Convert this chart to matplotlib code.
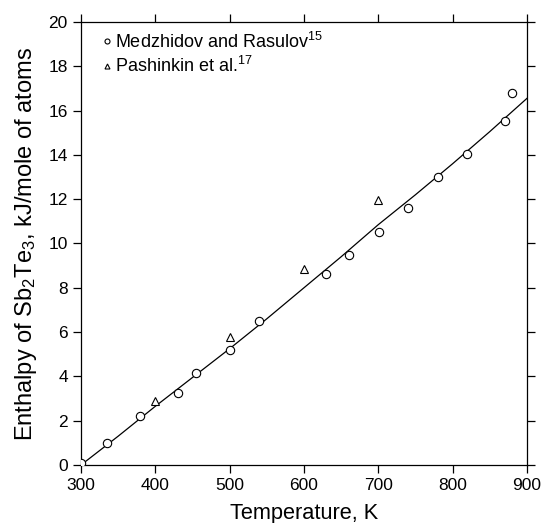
import matplotlib
matplotlib.use("Agg")
import matplotlib.pyplot as plt

plt.rcParams['font.family'] = ['Liberation Sans', 'DejaVu Sans']
plt.rcParams['mathtext.fontset'] = 'custom'
plt.rcParams['mathtext.rm'] = 'Liberation Sans'

# Medzhidov and Rasulov (circles)
t_med = [300, 335, 380, 430, 455, 500, 540, 630, 660, 701, 740, 780, 820, 870, 880]
h_med = [0.08, 0.98, 2.23, 3.24, 4.15, 5.2, 6.5, 8.6, 9.5, 10.52, 11.62, 13.02, 14.02, 15.52, 16.78]

# Pashinkin et al. (triangles)
t_pas = [400, 500, 600, 700]
h_pas = [2.87, 5.8, 8.85, 11.95]

# fitted curve
t_fit = [300, 350, 400, 450, 500, 550, 600, 650, 700, 750, 800, 850, 900]
h_fit = [0.0, 1.3, 2.65, 3.95, 5.25, 6.6, 8.0, 9.4, 10.85, 12.2, 13.6, 15.05, 16.55]

fig = plt.figure(figsize=(5.41, 5.23), dpi=100)
ax = fig.add_axes([0.1497, 0.1109, 0.8243, 0.8471])

ax.plot(t_fit, h_fit, color='black', lw=0.9, zorder=2)
ax.plot(t_med, h_med, 'o', ms=6, mfc='white', mec='black', mew=0.8,
        label='Medzhidov and Rasulov$^{15}$', zorder=3)
ax.plot(t_pas, h_pas, '^', ms=6, mfc='white', mec='black', mew=0.8,
        label='Pashinkin et al.$^{17}$', zorder=3)

ax.set_xlim(300, 900)
ax.set_ylim(0, 20)
ax.set_xticks(range(300, 901, 100))
ax.set_yticks(range(0, 21, 2))
ax.tick_params(direction='out', length=6, width=0.9, labelsize=12.5,
               top=True, right=True, labeltop=False, labelright=False)
for s in ax.spines.values():
    s.set_linewidth(0.9)

ax.set_xlabel('Temperature, K', fontsize=15.7, labelpad=7)
ax.set_ylabel(r'Enthalpy of Sb$\mathregular{_2}$Te$\mathregular{_3}$, kJ/mole of atoms',
              fontsize=17, labelpad=7)

ax.legend(loc='upper left', frameon=False, fontsize=13, markerscale=0.6,
          handlelength=0.6, handletextpad=0.15, labelspacing=0.25,
          borderaxespad=0.0, bbox_to_anchor=(0.03, 0.995))

fig.savefig('out.png', dpi=100)
